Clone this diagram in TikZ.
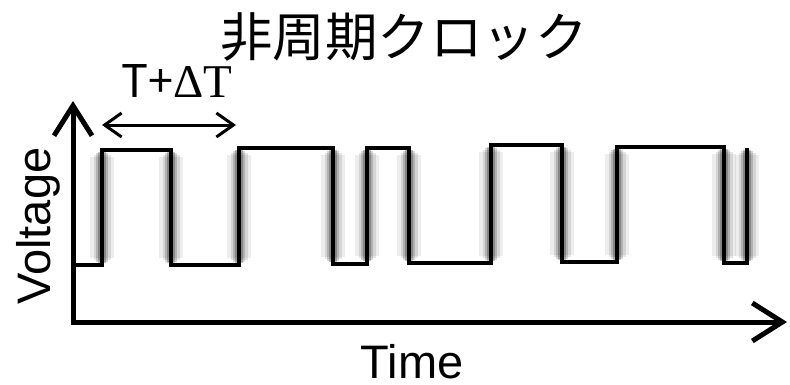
\documentclass[tikz,border=0pt]{standalone}
\usepackage{fontspec}
\setmainfont{Liberation Sans}
\newfontfamily\cjkfont{Noto Sans CJK JP}
\newfontfamily\seriffont{Liberation Serif}
\usetikzlibrary{arrows.meta}
\tikzset{
  bigbarb/.tip={Straight Barb[length=30pt,width=38pt,line width=5pt]},
  smallbarb/.tip={Straight Barb[length=17pt,width=24pt,line width=3pt]},
  axisline/.style={line width=5pt, line join=miter},
  spanarrow/.style={line width=3pt, {smallbarb}-{smallbarb}},
  wave/.style={line width=3.5pt, line join=miter, black},
  glowA/.style={black, opacity=0.07, line width=24pt},
  glowB/.style={black, opacity=0.10, line width=17pt},
  glowC/.style={black, opacity=0.16, line width=12pt},
  glowD/.style={black, opacity=0.24, line width=8pt},
  lab/.style={inner sep=0pt, font=\fontsize{47pt}{50pt}\selectfont},
}
\begin{document}
\begin{tikzpicture}[x=1pt,y=-1pt]
\useasboundingbox (0,0) rectangle (790,384);
\fill[white] (0,0) rectangle (790,384);

% title
\node[inner sep=0pt, font=\cjkfont\fontsize{52.5pt}{56pt}\selectfont] (title) at (404,37) {非周期クロック};

% span label
\node[inner sep=0pt, anchor=base west] (span) at (121,97)
  {{\cjkfont\fontsize{45pt}{48pt}\selectfont T+}{\seriffont\fontsize{47pt}{50pt}\selectfont ΔT}};

% span arrow
\coordinate (s1) at (102,125);
\coordinate (s2) at (236,125);
\draw[spanarrow] (s1) -- (s2);

% glow on vertical edges
\foreach \x/\t/\b in {102/150/265, 171/150/265, 239/148/265, 333/148/264, 367/148/263,
                      409/148/263, 491/145/263, 562/145/262, 617/147/262, 724/147/263, 747/148/263}{
  \draw[glowA] (\x,\t+7) -- (\x,\b-7);
  \draw[glowB] (\x,\t+5) -- (\x,\b-5);
  \draw[glowC] (\x,\t+3) -- (\x,\b-3);
  \draw[glowD] (\x,\t+2) -- (\x,\b-2);
}

% waveform
\draw[wave] (73,265) -- (102,265) -- (102,150) -- (171,150) -- (171,265) -- (239,265)
  -- (239,148) -- (333,148) -- (333,264) -- (367,264) -- (367,148) -- (409,148)
  -- (409,263) -- (491,263) -- (491,145) -- (562,145) -- (562,262) -- (617,262)
  -- (617,147) -- (724,147) -- (724,263) -- (747,263) -- (747,148);

% axes
\coordinate (O) at (73,322);
\coordinate (ytop) at (73,101);
\coordinate (xend) at (787,322);
\draw[axisline, {bigbarb}-{bigbarb}] (ytop) -- (O) -- (xend);

% axis labels
\node[lab, rotate=90, anchor=base] (vlab) at (50,226) {Voltage};
\node[lab, anchor=base] (tlab) at (412,378) {Time};
\end{tikzpicture}
\end{document}
